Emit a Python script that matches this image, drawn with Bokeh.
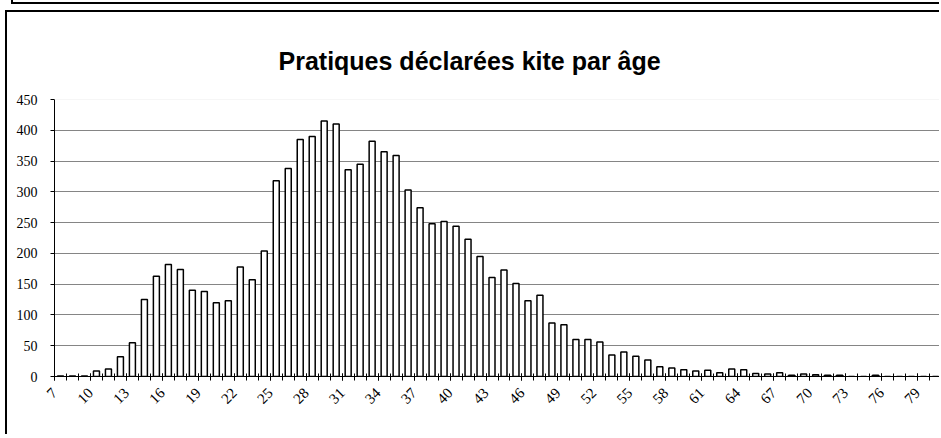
import math
from bokeh.plotting import figure
from bokeh.layouts import column
from bokeh.models import FixedTicker, Range1d, Span, Title, Div
from bokeh.embed import file_html
from bokeh.resources import INLINE

# ---- data ----
ages = list(range(7, 81))
counts = [1, 1, 1, 9, 12, 32, 55, 125, 163, 182,
          174, 140, 138, 120, 123, 178, 157, 204, 318, 338,
          385, 390, 415, 410, 336, 345, 382, 365, 359, 303,
          274, 248, 252, 244, 223, 195, 161, 173, 151, 123,
          132, 87, 84, 60, 60, 56, 35, 40, 33, 27,
          16, 14, 11, 9, 10, 6, 12, 11, 5, 4,
          6, 2, 4, 3, 2, 2, 0, 0, 2, 0,
          0, 0, 0, 0]
label_ages = list(range(7, 80, 3))
y_ticks = list(range(0, 451, 50))
title_text = "Pratiques déclarées kite par âge"

# bottom edge of the chart box above this one
prev_box = Div(text="", width=928, height=4, margin=(0, 0, 0, 11),
               styles={"border-left": "2px solid black",
                       "border-bottom": "2px solid black"})

p = figure(width=934, height=424, output_backend="svg", toolbar_location=None,
           x_range=Range1d(ages[0] - 0.5, ages[-1] + 0.5), y_range=Range1d(0, 450),
           min_border_left=47, min_border_right=0, min_border_top=87, min_border_bottom=60)
p.styles = {"margin-top": "6px", "margin-left": "5px",
            "border-top": "2px solid black", "border-left": "2px solid black"}
p.outline_line_color = None
p.background_fill_color = "white"

t = Title(text=title_text, align="left", text_font="Liberation Sans", text_font_style="bold",
          text_font_size="25px", text_color="black", offset=224, standoff=50)
p.add_layout(t, "above")

p.vbar(x=ages, top=counts, width=0.5, fill_color="white", line_color="black", line_width=1.5)

# grid
p.xgrid.visible = False
p.ygrid.ticker = FixedTicker(ticks=y_ticks[1:-1])
p.ygrid.grid_line_color = "#858585"
p.ygrid.grid_line_width = 1
p.add_layout(Span(location=y_ticks[-1], dimension="width", line_color="#eeeeee", line_width=1))

# x axis
xa = p.xaxis[0]
label_pos = [a - 0.5 for a in label_ages]
xa.ticker = FixedTicker(ticks=label_pos, minor_ticks=[a - 0.5 for a in ages] + [ages[-1] + 0.5])
xa.major_label_overrides = {pos: str(a) for pos, a in zip(label_pos, label_ages)}
xa.major_label_orientation = math.pi / 4
xa.major_label_text_font = "Liberation Serif"
xa.major_label_text_font_size = "15px"
xa.major_label_text_color = "black"
xa.major_label_standoff = 10
xa.axis_line_color = "black"
xa.major_tick_in = 3
xa.major_tick_out = 4
xa.minor_tick_in = 3
xa.minor_tick_out = 4
xa.major_tick_line_color = "black"
xa.minor_tick_line_color = "black"

# y axis
ya = p.yaxis[0]
ya.ticker = FixedTicker(ticks=y_ticks)
ya.major_label_text_font = "Liberation Serif"
ya.major_label_text_font_size = "14px"
ya.major_label_text_color = "black"
ya.major_label_standoff = 13
ya.axis_line_color = "black"
ya.major_tick_in = 0
ya.major_tick_out = 4
ya.minor_tick_out = 0
ya.minor_tick_in = 0
ya.major_tick_line_color = "black"

layout = column(prev_box, p, spacing=0)
open("out.html", "w").write(file_html(layout, INLINE))
